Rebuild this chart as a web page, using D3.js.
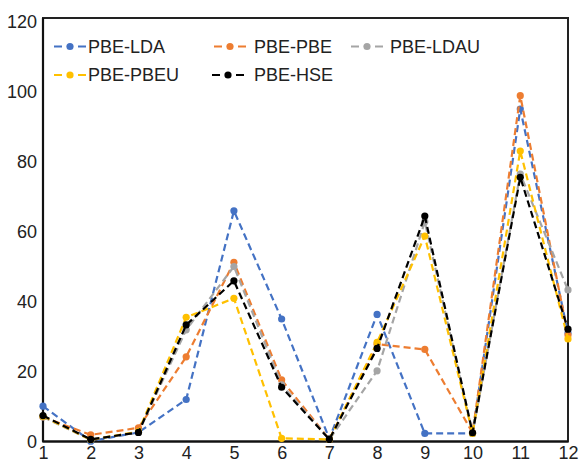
<!DOCTYPE html>
<html>
<head>
<meta charset="utf-8">
<script src="https://cdn.jsdelivr.net/npm/d3@7/dist/d3.min.js"></script>
<style>
  html, body { margin: 0; padding: 0; background: #fff; }
  svg { display: block; font-family: "Liberation Sans", Arial, sans-serif; }
</style>
</head>
<body>
<svg id="chart" width="584" height="463"></svg>
<script>
// Categories along the x axis
const categories = [1, 2, 3, 4, 5, 6, 7, 8, 9, 10, 11, 12];

// Series values
const pbeLda  = [10.1, 0.1, 2.6, 12.0, 65.9, 35.0, 0.8, 36.3, 2.3, 2.3, 95.0, 31.0];
const pbePbe  = [7.0, 1.9, 3.9, 24.2, 51.2, 17.6, 0.6, 27.8, 26.3, 2.5, 98.8, 30.4];
const pbeLdau = [7.0, 0.5, 2.6, 31.9, 50.0, 16.2, 0.6, 20.2, 62.8, 2.3, 76.4, 43.3];
const pbePbeu = [7.2, 0.5, 2.8, 35.5, 40.9, 0.9, 0.6, 28.3, 58.7, 2.3, 83.0, 29.3];
const pbeHse  = [7.4, 0.6, 2.6, 33.3, 45.9, 15.5, 0.6, 26.6, 64.4, 2.5, 75.5, 32.1];

// Series names and y tick labels
const seriesNames = ["PBE-LDA", "PBE-PBE", "PBE-LDAU", "PBE-PBEU", "PBE-HSE"];
const yTicks = [0, 20, 40, 60, 80, 100, 120];

const colors = ["#4472C4", "#ED7D31", "#A5A5A5", "#FFC000", "#000000"];
const seriesValues = [pbeLda, pbePbe, pbeLdau, pbePbeu, pbeHse];
const series = seriesNames.map((name, i) => ({
  name, color: colors[i],
  points: categories.map((c, j) => ({ x: c, y: seriesValues[i][j] }))
}));

const svg = d3.select("#chart");
const plotLeft = 43, plotRight = 568, plotBottom = 441.5, plotTop = 21.5, frameTop = 18;

const x = d3.scaleLinear().domain([1, 12]).range([plotLeft, plotRight]);
const y = d3.scaleLinear().domain([0, 120]).range([plotBottom, plotTop]);

// Plot frame
svg.append("rect")
  .attr("x", plotLeft).attr("y", frameTop)
  .attr("width", plotRight - plotLeft).attr("height", plotBottom - frameTop)
  .attr("fill", "none").attr("stroke", "#222").attr("stroke-width", 2);

// Y axis labels
const yAxis = d3.axisLeft(y).tickValues(yTicks).tickSize(0).tickPadding(6);
const gy = svg.append("g").attr("transform", `translate(${plotLeft},0)`).call(yAxis);
gy.select(".domain").remove();
gy.selectAll("text").attr("font-size", 18).attr("fill", "#222")
  .attr("font-family", "Liberation Sans, Arial, sans-serif");

// X axis labels
const xAxis = d3.axisBottom(x).tickValues(categories).tickSize(0).tickPadding(5)
  .tickFormat(d3.format("d"));
const gx = svg.append("g").attr("transform", `translate(0,${plotBottom})`).call(xAxis);
gx.select(".domain").remove();
gx.selectAll("text").attr("font-size", 18).attr("fill", "#222")
  .attr("font-family", "Liberation Sans, Arial, sans-serif");

// Axis lines drawn over the frame
svg.append("line").attr("x1", plotLeft).attr("x2", plotRight).attr("y1", plotBottom).attr("y2", plotBottom)
  .attr("stroke", "#111").attr("stroke-width", 2.2);
svg.append("line").attr("x1", plotLeft).attr("x2", plotLeft).attr("y1", frameTop).attr("y2", plotBottom)
  .attr("stroke", "#111").attr("stroke-width", 2.2);

// Series: dashed lines with round markers
const line = d3.line().x(d => x(d.x)).y(d => y(d.y));
series.forEach(s => {
  const g = svg.append("g");
  g.append("path").datum(s.points)
    .attr("d", line).attr("fill", "none")
    .attr("stroke", s.color).attr("stroke-width", 2.2)
    .attr("stroke-dasharray", "7,4");
  g.selectAll("circle").data(s.points).join("circle")
    .attr("cx", d => x(d.x)).attr("cy", d => y(d.y)).attr("r", 3.6)
    .attr("fill", s.color);
});

// Legend
const legendPos = [
  { sx: 54, tx: 88, y: 46.5 },
  { sx: 214, tx: 254, y: 46.5 },
  { sx: 351, tx: 390, y: 46.5 },
  { sx: 54, tx: 88, y: 75 },
  { sx: 212, tx: 254, y: 75 }
];
series.forEach((s, i) => {
  const p = legendPos[i];
  const g = svg.append("g");
  g.append("line").attr("x1", p.sx).attr("x2", p.sx + 32)
    .attr("y1", p.y).attr("y2", p.y)
    .attr("stroke", s.color).attr("stroke-width", 2.2)
    .attr("stroke-dasharray", "8,16,8");
  g.append("circle").attr("cx", p.sx + 16).attr("cy", p.y).attr("r", 3.6).attr("fill", s.color);
  g.append("text").attr("x", p.tx).attr("y", p.y).attr("dy", "0.35em")
    .attr("font-size", 18).attr("fill", "#222").text(s.name);
});
</script>
</body>
</html>
